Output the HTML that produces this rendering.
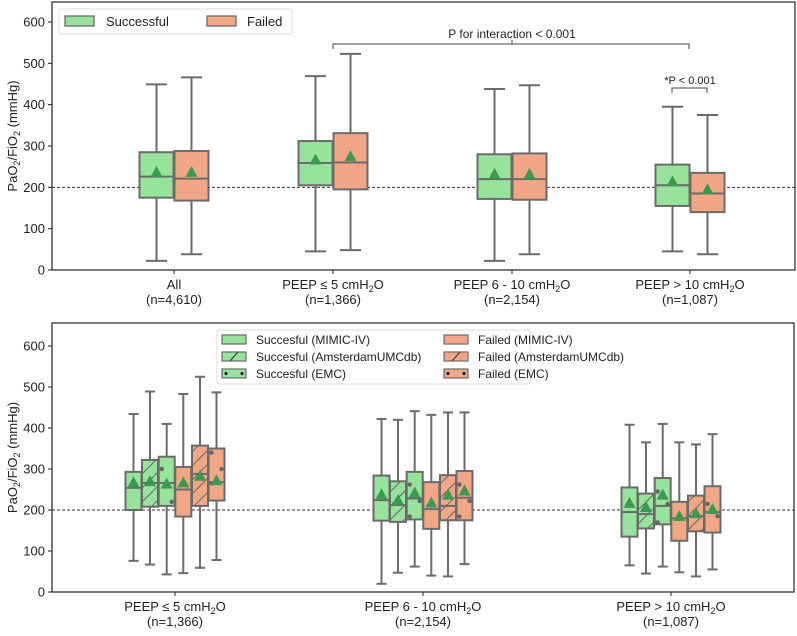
<!DOCTYPE html>
<html><head><meta charset="utf-8">
<style>
body{margin:0;background:#fff;font-family:"Liberation Sans",Arial,sans-serif;}
svg text{font-family:"Liberation Sans",Arial,sans-serif;fill:#222;}
</style></head>
<body>
<svg id="chart" width="797" height="631" viewBox="0 0 797 631" xmlns="http://www.w3.org/2000/svg">
<defs>
<pattern id="hatch" patternUnits="userSpaceOnUse" width="14" height="14">
<path d="M-2,16 L16,-2" stroke="#666" stroke-width="1"/>
</pattern>
</defs>
</svg>
<script>
// ---- Top panel data ----
const topCategories = ["All|(n=4,610)", "PEEP ≤ 5 cmH₂O|(n=1,366)", "PEEP 6 - 10 cmH₂O|(n=2,154)", "PEEP > 10 cmH₂O|(n=1,087)"];
const topSuccess = [[22,175,226,285,449],[45,205,259,312,469],[22,172,220,280,438],[45,155,205,255,395]];
const topSuccessMean = [235,265,230,212];
const topFailed = [[38,168,221,288,466],[48,195,260,331,523],[38,170,220,282,447],[38,140,185,235,375]];
const topFailedMean = [235,273,230,193];
const yTicks = [0,100,200,300,400,500,600];
// ---- Bottom panel data: [wlo,q1,med,q3,whi] per series per group ----
const botCategories = ["PEEP ≤ 5 cmH₂O|(n=1,366)", "PEEP 6 - 10 cmH₂O|(n=2,154)", "PEEP > 10 cmH₂O|(n=1,087)"];
const botSeriesNames = ["Succesful (MIMIC-IV)","Succesful (AmsterdamUMCdb)","Succesful (EMC)","Failed (MIMIC-IV)","Failed (AmsterdamUMCdb)","Failed (EMC)"];
const botMimicS = [[76,200,254,293,434],[20,174,224,284,422],[65,135,195,255,408]];
const botAmsS = [[67,208,266,322,489],[47,171,212,270,420],[45,155,190,240,365]];
const botEmcS = [[43,210,266,330,410],[62,177,228,293,441],[62,165,210,278,410]];
const botMimicF = [[46,184,250,305,483],[40,154,202,268,432],[48,125,180,220,365]];
const botAmsF = [[59,210,288,357,525],[38,175,210,285,438],[38,148,185,235,360]];
const botEmcF = [[78,223,268,350,487],[68,175,230,295,438],[55,145,195,258,385]];
const botMeans = [[265,268,262,265,281,270],[236,222,240,216,235,245],[215,205,235,183,190,200]];
const botEmcSDots = [[300,220],[262,222,184],[245,215,170]];
const botEmcFDots = [[340,300,265],[262,222,184],[215,185]];

const svg = document.getElementById('chart');
const NS = "http://www.w3.org/2000/svg";
const GREEN="#98e39b", ORANGE="#f1a785", EDGE="#6b6b6b", MEAN="#3a9a4f";
function mk(tag, attrs, parent){const e=document.createElementNS(NS,tag);for(const k in attrs)e.setAttribute(k,attrs[k]);(parent||svg).appendChild(e);return e;}

const topY = v => 270 - v*(248/600);
const botY = v => 592 - v*(246/600);

function axesFrame(x0,y0,x1,y1,yfn,name){
  const r=mk('rect',{x:x0,y:y0,width:x1-x0,height:y1-y0,fill:'none',stroke:'#222','stroke-width':1.2});
  
  
  yTicks.forEach(t=>{
    const y=yfn(t);
    const l=mk('line',{x1:x0-4,x2:x0,y1:y,y2:y,stroke:'#222'});
    
    
    const tx=mk('text',{x:x0-7,y:y+4.5,'text-anchor':'end','font-size':13});
    tx.textContent=t;
    
    
  });
  const yl=yfn(200);
  const d=mk('line',{x1:x0,x2:x1,y1:yl,y2:yl,stroke:'#333','stroke-dasharray':'3,2','stroke-width':1});
  
  
  const my=(y0+y1)/2;
  const t=mk('text',{x:0,y:0,transform:`translate(17,${my}) rotate(-90)`,'text-anchor':'middle','font-size':13});
  t.innerHTML='PaO<tspan font-size="9" dy="3">2</tspan><tspan dy="-3">/FiO</tspan><tspan font-size="9" dy="3">2</tspan><tspan dy="-3"> (mmHg)</tspan>';
  
  
}
function catLabel(x,y0,label){
  const l=mk('line',{x1:x,x2:x,y1:y0,y2:y0+4,stroke:'#222'});
  
  
  const [a,b]=label.split('|');
  const t=mk('text',{x:x,y:y0+19,'text-anchor':'middle','font-size':13});
  t.innerHTML=a.replace('H₂O','H<tspan font-size="9" dy="3">2</tspan><tspan dy="-3">O</tspan>');
  
  
  const t2=mk('text',{x:x,y:y0+34,'text-anchor':'middle','font-size':13});
  t2.textContent=b;
  
  
}
function box(cx,w,s,yfn,fill,hatch,mean,dots,name){
  const g=mk('g',{});
  
  
  const [lo,q1,md,q3,hi]=s.map(yfn);
  const cap=w/2;
  mk('line',{x1:cx,x2:cx,y1:hi,y2:q3,stroke:EDGE,'stroke-width':2},g);
  mk('line',{x1:cx,x2:cx,y1:q1,y2:lo,stroke:EDGE,'stroke-width':2},g);
  mk('line',{x1:cx-cap/1.6,x2:cx+cap/1.6,y1:hi,y2:hi,stroke:EDGE,'stroke-width':2},g);
  mk('line',{x1:cx-cap/1.6,x2:cx+cap/1.6,y1:lo,y2:lo,stroke:EDGE,'stroke-width':2},g);
  mk('rect',{x:cx-w/2,y:q3,width:w,height:q1-q3,fill:fill,stroke:EDGE,'stroke-width':2},g);
  if(hatch) mk('rect',{x:cx-w/2,y:q3,width:w,height:q1-q3,fill:'url(#hatch)'},g);
  mk('line',{x1:cx-w/2,x2:cx+w/2,y1:md,y2:md,stroke:EDGE,'stroke-width':2},g);
  (dots||[]).forEach((v,i)=>{mk('circle',{cx:cx+(i%2?w/2-3:-(w/2-3)),cy:yfn(v),r:2.2,fill:'#666'},g);});
  const my=yfn(mean);
  mk('polygon',{points:`${cx},${my-7} ${cx-6},${my+4} ${cx+6},${my+4}`,fill:MEAN},g);
}

// ---- top panel ----
axesFrame(52,2,795,270,topY,'top-panel');
const topX=[174,333,512,690];
topCategories.forEach((c,i)=>{
  box(topX[i]-17.5,34,topSuccess[i],topY,GREEN,false,topSuccessMean[i],null,'box-successful-'+i);
  box(topX[i]+17.5,34,topFailed[i],topY,ORANGE,false,topFailedMean[i],null,'box-failed-'+i);
  catLabel(topX[i],270,c);
});
// annotations
let p=mk('path',{d:'M333,49 V44 H689 V49 M512,44 V40',fill:'none',stroke:'#444','stroke-width':1});


let at=mk('text',{x:512,y:38,'text-anchor':'middle','font-size':12});at.textContent='P for interaction < 0.001';


p=mk('path',{d:'M672,93 V88 H707 V93',fill:'none',stroke:'#444','stroke-width':1});


at=mk('text',{x:690,y:84,'text-anchor':'middle','font-size':11});at.textContent='*P < 0.001';


// top legend
const lg=mk('g',{});


mk('rect',{x:59,y:9,width:233,height:25,fill:'#fff',stroke:'#ddd',rx:2},lg);
mk('rect',{x:65,y:16,width:29,height:10,fill:GREEN,stroke:EDGE,'stroke-width':1.3},lg);
let lt=mk('text',{x:106,y:26,'font-size':13},lg);lt.textContent='Successful';
mk('rect',{x:207,y:16,width:29,height:10,fill:ORANGE,stroke:EDGE,'stroke-width':1.3},lg);
lt=mk('text',{x:247,y:26,'font-size':13},lg);lt.textContent='Failed';

// ---- bottom panel ----
axesFrame(52,323,794,592,botY,'bottom-panel');
const botX=[175,423,671];
const offs=[-41.5,-25,-8.3,8.3,25,41.5];
const series=[botMimicS,botAmsS,botEmcS,botMimicF,botAmsF,botEmcF];
botCategories.forEach((c,i)=>{
  series.forEach((s,j)=>{
    const dots = j===2?botEmcSDots[i]:(j===5?botEmcFDots[i]:null);
    box(botX[i]+offs[j],16,s[i],botY,j<3?GREEN:ORANGE,j%3===1,botMeans[i][j],dots,'box-'+j+'-group-'+i);
  });
  catLabel(botX[i],592,c);
});
// bottom legend
const bl=mk('g',{});


mk('rect',{x:217,y:330,width:313,height:54,fill:'#fff',stroke:'#ddd',rx:2},bl);
botSeriesNames.forEach((n,j)=>{
  const col=j<3?0:1, row=j%3;
  const x=col?444:222, y=335+row*17;
  mk('rect',{x:x,y:y,width:24,height:9,fill:j<3?GREEN:ORANGE,stroke:EDGE,'stroke-width':1.2},bl);
  if(row===1) mk('line',{x1:x+8,y1:y+9,x2:x+16,y2:y,stroke:'#333'},bl);
  if(row===2){mk('circle',{cx:x+4,cy:y+4.5,r:1.5,fill:'#000'},bl);mk('circle',{cx:x+20,cy:y+4.5,r:1.5,fill:'#000'},bl);}
  const t=mk('text',{x:x+34,y:y+9,'font-size':12},bl);t.textContent=n;
});
</script>
</body></html>
